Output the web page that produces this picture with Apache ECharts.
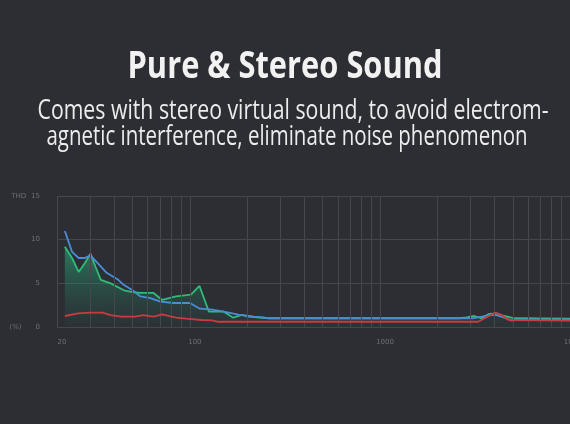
<!DOCTYPE html>
<html>
<head>
<meta charset="utf-8">
<script src="https://cdn.jsdelivr.net/npm/echarts@6/dist/echarts.min.js"></script>
<style>
html,body{margin:0;padding:0;background:#2c2e33;}
#chart{width:570px;height:424px;}
</style>
</head>
<body>
<div id="chart"></div>
<script>
// ---- data ----
var titleText = 'Pure & Stereo Sound';
var subLine1 = 'Comes with stereo virtual sound, to avoid electrom-';
var subLine2 = 'agnetic interference, eliminate noise phenomenon';

var xTickLabels = [20, 100, 1000, 10000];
var yTickLabels = [0, 5, 10, 15];
var gridFreqs = [20, 30, 40, 50, 60, 70, 80, 90, 100, 200, 300, 400, 500, 600, 700, 800, 900,
                 1000, 2000, 3000, 4000, 5000, 6000, 7000, 8000, 9000];

var blueFreq = [22, 24, 26, 28, 30, 36.5, 42, 45, 50, 55, 62, 70, 82, 100, 113, 131, 151, 165, 182, 199, 217, 261, 3075, 3430, 3757, 4115, 4590, 4930, 5193, 10000];
var blueThd  = [11.0, 8.6, 7.9, 7.9, 8.2, 6.2, 5.4, 4.8, 4.2, 3.5, 3.3, 2.9, 2.75, 2.75, 2.1, 2.0, 1.75, 1.6, 1.4, 1.3, 1.2, 1.0, 1.0, 1.2, 1.37, 1.37, 1.0, 0.72, 0.88, 0.88];

var greenFreq = [22, 24, 26, 28, 30, 31.9, 34, 38.3, 45, 50, 55, 64.4, 71.5, 84.6, 101.4, 112.4, 126, 141, 151, 169, 188, 203, 261, 2614, 2859, 3131, 3432, 3757, 4115, 4505, 5114, 10000];
var greenThd  = [9.2, 7.9, 6.3, 7.3, 8.4, 6.9, 5.4, 5.0, 4.2, 4.0, 3.9, 3.9, 3.1, 3.5, 3.7, 4.7, 1.75, 1.75, 1.75, 1.07, 1.4, 1.2, 1.0, 1.0, 1.1, 1.26, 1.0, 1.5, 1.57, 1.26, 1.0, 0.95];

var redFreq = [22, 25.8, 30, 34.8, 38.3, 43.6, 51.6, 56.7, 64.4, 71.5, 80, 84.6, 95.8, 115, 131, 141, 3282, 3693, 4045, 4425, 4760, 10000];
var redThd  = [1.26, 1.57, 1.64, 1.64, 1.37, 1.18, 1.18, 1.37, 1.2, 1.45, 1.2, 1.07, 0.95, 0.8, 0.75, 0.6, 0.6, 1.18, 1.64, 1.3, 0.8, 0.72];

// ---- build ----
function pairs(xs, ys){ return xs.map(function(x,i){ return [x, ys[i]]; }); }

var measureCtx = document.createElement('canvas').getContext('2d');
function fitScale(text, font, target){
  measureCtx.font = font;
  return target / measureCtx.measureText(text).width;
}
var titleFont = 'bold 38px "Open Sans"';
var subFont = '500 28px "Open Sans"';
var sTitle = fitScale(titleText, titleFont, 315);
var sSub1 = fitScale(subLine1, subFont, 511);
var sSub2 = fitScale(subLine2, subFont, 481);

var chart = echarts.init(document.getElementById('chart'), null, {renderer:'canvas'});
var gridColor = '#45474d';
var labelColor = '#6d7076';
var option = {
  backgroundColor: '#2c2e33',
  animation: false,
  graphic: [
    {type:'text', x:285, y:67, scaleX:sTitle, style:{text:titleText, font:titleFont, fill:'#f2f2f2', align:'center', verticalAlign:'middle'}},
    {type:'text', x:293, y:111, scaleX:sSub1, style:{text:subLine1, font:subFont, fill:'#ececec', align:'center', verticalAlign:'middle'}},
    {type:'text', x:287, y:137, scaleX:sSub2, style:{text:subLine2, font:subFont, fill:'#ececec', align:'center', verticalAlign:'middle'}}
  ],
  grid: {left:57, right:0, top:196, bottom:97, containLabel:false, outerBoundsMode:'none'},
  xAxis: {
    type:'log', logBase:10, min:xTickLabels[0], max:xTickLabels[xTickLabels.length-1],
    axisLine:{show:false}, axisTick:{show:false}, splitLine:{show:false},
    axisLabel:{
      color:labelColor, fontSize:7, margin:12, fontFamily:'DejaVu Sans',
      showMinLabel:true, showMaxLabel:true, hideOverlap:false,
      padding:[0,0,0,10],
      formatter:function(v){ return String(Math.round(v)); }
    }
  },
  yAxis: {
    type:'value', min:yTickLabels[0], max:yTickLabels[yTickLabels.length-1], interval:5,
    axisLine:{show:false}, axisTick:{show:false},
    splitLine:{lineStyle:{color:gridColor, width:1}},
    axisLabel:{
      color:labelColor, fontSize:7, margin:17, fontFamily:'DejaVu Sans',
      formatter:function(v){
        if (v === 15) return '{u|THD}{v|15}';
        if (v === 0) return '{u|(%)}{w|0}';
        return String(v);
      },
      rich:{
        u:{color:labelColor, fontSize:7, fontFamily:'DejaVu Sans', padding:[0,5,0,0]},
        v:{color:labelColor, fontSize:7, fontFamily:'DejaVu Sans'},
        w:{color:labelColor, fontSize:7, fontFamily:'DejaVu Sans', padding:[0,0,0,9]}
      }
    }
  },
  series: [
    {
      type:'line', name:'grid', data:[], silent:true,
      markLine:{
        silent:true, symbol:['none','none'], animation:false,
        label:{show:false},
        lineStyle:{color:gridColor, width:1, type:'solid'},
        emphasis:{disabled:true},
        data: gridFreqs.map(function(f){ return {xAxis:f}; })
      }
    },
    {
      type:'line', name:'green', data:pairs(greenFreq, greenThd), showSymbol:false, symbol:'none',
      lineStyle:{color:'#2fbb78', width:1.8},
      areaStyle:{color:{type:'linear', x:0, y:0, x2:0, y2:1, colorStops:[
        {offset:0, color:'rgba(40,185,130,0.8)'},
        {offset:0.5, color:'rgba(36,150,112,0.42)'},
        {offset:1, color:'rgba(36,130,105,0.05)'}
      ]}},
      z:3
    },
    {
      type:'line', name:'blue', data:pairs(blueFreq, blueThd), showSymbol:false, symbol:'none',
      lineStyle:{color:'#4a8cd8', width:1.8}, z:4
    },
    {
      type:'line', name:'red', data:pairs(redFreq, redThd), showSymbol:false, symbol:'none',
      lineStyle:{color:'#c83c40', width:1.8}, z:5
    }
  ]
};
chart.setOption(option);
</script>
</body>
</html>
